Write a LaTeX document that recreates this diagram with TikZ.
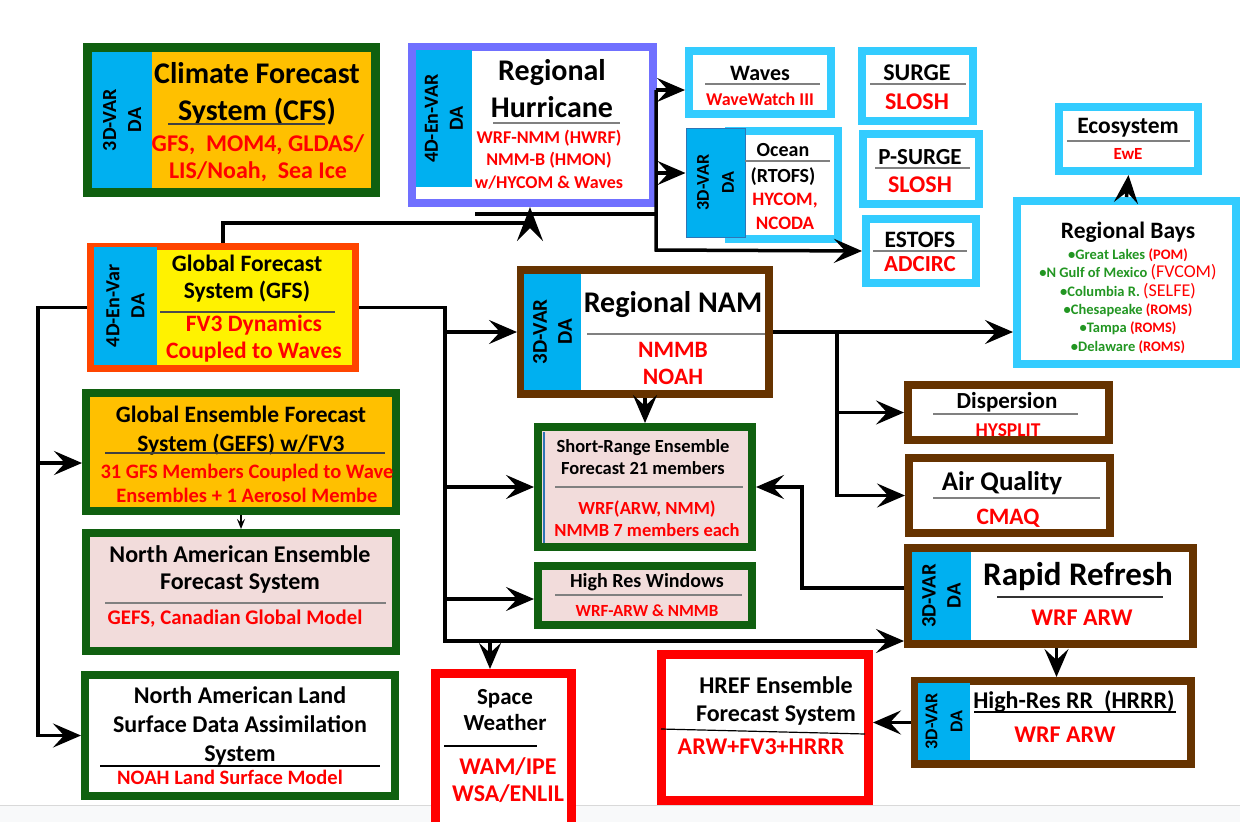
\documentclass[tikz,border=0pt]{standalone}
\usepackage{fontspec}
\setmainfont{Carlito}
\usetikzlibrary{arrows.meta}
\definecolor{dkgreen}{RGB}{16,96,16}
\definecolor{hurblue}{RGB}{112,112,255}
\definecolor{ltblue}{RGB}{51,204,255}
\definecolor{gfsred}{RGB}{255,69,0}
\definecolor{brownc}{RGB}{102,51,0}
\definecolor{dablue}{RGB}{0,176,240}
\definecolor{daline}{RGB}{46,117,182}
\definecolor{orangef}{RGB}{255,192,0}
\definecolor{pinkf}{RGB}{242,220,219}
\definecolor{txtred}{RGB}{255,0,0}
\definecolor{txtgreen}{RGB}{34,150,34}
\definecolor{sepgray}{RGB}{128,128,128}
\definecolor{bandgray}{RGB}{248,249,250}
\begin{document}
\begin{tikzpicture}[x=1pt, y=-1pt,
    frame/.style={draw=#1, fill=white, line width=8pt, inner sep=0pt},
    da/.style={fill=dablue, rotate=90, align=center, inner sep=0pt, font=\bfseries\fontsize{#1}{25}\selectfont},
    ttl/.style 2 args={align=center, inner sep=0pt, font=\bfseries\fontsize{#1}{#2}\selectfont},
    mdl/.style 2 args={ttl={#1}{#2}, text=txtred},
    sep/.style={draw=sepgray, line width=1.8pt},
    wire/.style={line width=3.5pt},
    arr/.style={wire, -{Stealth[length=28pt, width=24pt, inset=11pt]}}
    ]
    \useasboundingbox (0,0) rectangle (1240,822);
    \fill[bandgray] (0,805) rectangle (1240,822);
    \draw[gray!30, line width=1pt] (0,805) -- (1240,805);

    % frames
    \node[frame=dkgreen, line width=9pt, fill=orangef, minimum width=288pt, minimum height=145pt] (cfs) at (231.5,120) {};
    \node[frame=hurblue, minimum width=241pt, minimum height=156pt] (hur) at (532.5,125) {};
    \node[frame=ltblue, minimum width=142pt, minimum height=63pt] (wav) at (760,82.5) {};
    \node[frame=ltblue, minimum width=109pt, minimum height=108pt] (ocn) at (783.5,185) {};
    \node[frame=ltblue, minimum width=111pt, minimum height=70pt] (srg) at (917.5,86) {};
    \node[frame=ltblue, minimum width=116pt, minimum height=70pt] (psg) at (921,169) {};
    \node[frame=ltblue, minimum width=110pt, minimum height=64pt] (est) at (921,251) {};
    \node[frame=ltblue, minimum width=139pt, minimum height=64pt] (eco) at (1128.5,139) {};
    \node[frame=ltblue, minimum width=219pt, minimum height=163pt] (bay) at (1126.5,282.5) {};
    \node[frame=gfsred, line width=7pt, fill=yellow, minimum width=265pt, minimum height=122pt] (gfs) at (223,307.5) {};
    \node[frame=brownc, minimum width=248pt, minimum height=124pt] (nam) at (645,332) {};
    \node[frame=dkgreen, fill=orangef, minimum width=310pt, minimum height=118pt] (gef) at (241,452) {};
    \node[frame=dkgreen, fill=pinkf, minimum width=310pt, minimum height=118pt] (nae) at (241,592) {};
    \node[frame=dkgreen, minimum width=310pt, minimum height=121pt] (nal) at (240,735.5) {};
    \node[frame=dkgreen, fill=pinkf, minimum width=214pt, minimum height=120pt] (srf) at (645,487) {};
    \node[frame=dkgreen, fill=pinkf, minimum width=214pt, minimum height=59pt] (hrw) at (645,595.5) {};
    \node[frame=brownc, minimum width=201pt, minimum height=55pt] (dsp) at (1008.5,412.5) {};
    \node[frame=brownc, minimum width=201pt, minimum height=75pt] (aq) at (1009.5,495.5) {};
    \node[frame=brownc, minimum width=285pt, minimum height=96pt] (rr) at (1050.5,596) {};
    \node[frame=brownc, minimum width=276pt, minimum height=83pt] (hrr) at (1053,722.5) {};
    \node[frame=red, line width=9pt, minimum width=207pt, minimum height=146pt] (hrf) at (765,727.5) {};
    \node[frame=red, line width=9pt, minimum width=136pt, minimum height=157pt] (spw) at (503.5,752) {};

    % texts
    \node[da=20, minimum width=136pt, minimum height=60pt] (cfs-da) at (122,120) {3D-VAR\\DA};
    \node[ttl={30}{37}] (cfs-t) at (257,93.5) {Climate Forecast\\System (CFS)};
    \draw[sep, draw=darkgray] (168,124) -- (325,124);
    \node[mdl={24}{27}] (cfs-m) at (258,158.5) {GFS,~ MOM4, GLDAS/\\LIS/Noah,~ Sea Ice};

    \node[da=20, minimum width=137pt, minimum height=56pt] (hur-da) at (444,118.5) {4D-En-VAR\\DA};
    \node[ttl={30}{37}] (hur-t) at (552,88.5) {Regional\\Hurricane};
    \draw[sep] (493,123) -- (620,123);
    \node[mdl={18}{22.5}] (hur-m) at (549,159.5) {WRF-NMM (HWRF)\\NMM-B (HMON)\\w/HYCOM \& Waves};

    \node[ttl={22}{22}] (wav-t) at (760,73) {Waves};
    \draw[sep] (705,84) -- (820,84);
    \node[mdl={18}{18}] (wav-m) at (760,99) {WaveWatch III};

    \node[da=18, draw=daline, line width=1pt, minimum width=109pt, minimum height=59pt] (ocn-da) at (715.5,182.5) {3D-VAR\\DA};
    \node[ttl={20}{20}] (ocn-t) at (783,150) {Ocean};
    \draw[sep] (745,161) -- (830,161);
    \node[ttl={20}{20}] (ocn-s) at (783,177) {(RTOFS)};
    \node[mdl={19}{24}] (ocn-m) at (785,211) {HYCOM,\\NCODA};

    \node[ttl={24}{24}] (srg-t) at (917,73) {SURGE};
    \draw[sep] (870,84) -- (966,84);
    \node[mdl={24}{24}] (srg-m) at (917,102) {SLOSH};

    \node[ttl={23}{23}] (psg-t) at (920,157) {P-SURGE};
    \draw[sep] (875,168) -- (970,168);
    \node[mdl={24}{24}] (psg-m) at (920,185) {SLOSH};

    \node[ttl={23.5}{23.5}] (est-t) at (920,240) {ESTOFS};
    \draw[sep] (873,251) -- (967,251);
    \node[mdl={23}{23}] (est-m) at (920,264) {ADCIRC};

    \node[ttl={23.5}{23.5}] (eco-t) at (1128,128) {Ecosystem};
    \draw[sep] (1067,141) -- (1190,141);
    \node[mdl={17}{17}] (eco-m) at (1128,154) {EwE};

    \node[ttl={23.5}{23.5}] (bay-t) at (1128,232) {Regional Bays};
    \node[ttl={14.5}{18.4}, text=txtgreen] (bay-m) at (1128,301) {\textbullet Great Lakes {\color{txtred}(POM)}\\
      \textbullet N Gulf of Mexico {\color{txtred}\mdseries\fontsize{18}{18.4}\selectfont(FVCOM)}\\
      \textbullet Columbia R. {\color{txtred}\mdseries\fontsize{18}{18.4}\selectfont(SELFE)}\\
      \textbullet Chesapeake {\color{txtred}(ROMS)}\\
      \textbullet Tampa {\color{txtred}(ROMS)}\\
      \textbullet Delaware {\color{txtred}(ROMS)}};

    \node[da=20, minimum width=118pt, minimum height=63pt] (gfs-da) at (125.5,306) {4D-En-Var\\DA};
    \node[ttl={23.5}{27}] (gfs-t) at (247,278.5) {Global Forecast\\System (GFS)};
    \draw[sep, draw=black!70] (160,312) -- (335,312);
    \node[mdl={23.5}{27}] (gfs-m) at (254,338.5) {FV3 Dynamics\\Coupled to Waves};

    \node[da=21, minimum width=116pt, minimum height=57pt] (nam-da) at (552.5,332) {3D-VAR\\DA};
    \node[ttl={30}{30}] (nam-t) at (673,305) {Regional NAM};
    \draw[sep] (587,334) -- (765,334);
    \node[mdl={23.5}{27}] (nam-m) at (673,363.5) {NMMB\\NOAH};

    \node[ttl={23.5}{29}] (gef-t) at (241,430.5) {Global Ensemble Forecast\\System (GEFS) w/FV3};
    \draw[sep, draw=black!75] (105,453) -- (385,453);
    \node[mdl={20.5}{24}] (gef-m) at (247,483) {31 GFS Members Coupled to Wave\\Ensembles + 1 Aerosol Membe};

    \node[ttl={24}{27}] (nae-t) at (240,569.5) {North American Ensemble\\Forecast System};
    \draw[sep] (105,603) -- (386,603);
    \node[mdl={20.8}{20.8}] (nae-m) at (235,619) {GEFS, Canadian Global Model};

    \node[ttl={24}{29}] (nal-t) at (240,726) {North American Land\\Surface Data Assimilation\\System};
    \draw[sep, draw=black, line width=1.5pt] (100,766) -- (380,766);
    \node[mdl={20.5}{20.5}] (nal-m) at (230,777) {NOAH Land Surface Model};

    \draw[daline, line width=2pt] (544,432) -- (544,543);
    \node[ttl={18.5}{22}] (srf-t) at (643,457) {Short-Range Ensemble\\Forecast 21 members};
    \draw[sep] (555,487) -- (743,487);
    \node[mdl={18.5}{22}] (srf-m) at (647,519) {WRF(ARW, NMM)\\NMMB 7 members each};

    \node[ttl={20}{20}] (hrw-t) at (647,582) {High Res Windows};
    \draw[sep] (555,595) -- (742,595);
    \node[mdl={17}{17}] (hrw-m) at (647,611) {WRF-ARW \& NMMB};

    \node[ttl={23}{23}] (dsp-t) at (1007,402) {Dispersion};
    \draw[sep] (933,414) -- (1078,414);
    \node[mdl={19.5}{19.5}] (dsp-m) at (1008,430) {HYSPLIT};

    \node[ttl={27}{27}] (aq-t) at (1002,483) {Air Quality};
    \draw[sep] (933,498) -- (1100,498);
    \node[mdl={23.5}{23.5}] (aq-m) at (1008,518) {CMAQ};

    \node[da=20.5, minimum width=88pt, minimum height=59pt] (rr-da) at (941.5,596) {3D-VAR\\DA};
    \node[ttl={33}{33}] (rr-t) at (1078,577) {Rapid Refresh};
    \draw[sep, draw=black!80, line width=1.5pt] (997,597) -- (1163,597);
    \node[mdl={24}{24}] (rr-m) at (1082,618) {WRF ARW};

    \node[da=18, minimum width=77pt, minimum height=52pt] (hrr-da) at (944,721.5) {3D-VAR\\DA};
    \node[ttl={24}{24}] (hrr-t) at (1074,702) {High-Res RR~ (HRRR)};
    \draw[black, line width=1.5pt] (974,712) -- (1176,712);
    \node[mdl={24}{24}] (hrr-m) at (1065,735) {WRF ARW};

    \node[ttl={24}{28}] (hrf-t) at (776,701) {HREF Ensemble\\Forecast System};
    \draw[black, line width=1.2pt] (661,729) -- (865,734);
    \node[mdl={24}{24}] (hrf-m) at (761,747) {ARW+FV3+HRRR};

    \node[ttl={23}{26}] (spw-t) at (505,710) {Space\\Weather};
    \draw[black, line width=1.2pt] (444,746) -- (537,746);
    \node[mdl={24}{27}] (spw-m) at (508,780.5) {WAM/IPE\\WSA/ENLIL};

    % connectors
    \coordinate (gh) at (530,223);
    \draw[arr, -{Stealth[length=34pt, width=26pt, inset=13pt]}] (gfs.north) |- (gh) -- (gh |- hur.south);
    \coordinate (hw) at (475,214);
    \draw[wire] (hw) -- (656,214);
    \coordinate (ob) at (656,90);
    \draw[arr] (ob) -- (ob -| wav.west);
    \draw[arr] (656,173) -- (ocn-da.north |- 656,173);
    \draw[arr] (ob) -- (656,250) -- (est.west);

    \coordinate (lb) at (38,307.5);
    \draw[arr] (gfs.west) -- (lb) |- (nal.west);
    \draw[arr] (lb |- 0,463) -- (gef.west |- 0,463);

    \coordinate (rb) at (445,307.5);
    \coordinate (rc) at (445,641);
    \draw[arr] (gfs.east) -- (rb) -- (rc) -- (rc -| rr.west);
    \draw[arr] (rb |- nam.west) -- (nam.west);
    \draw[arr] (rb |- srf.west) -- (srf.west);
    \draw[arr] (rb |- 0,599) -- (hrw.west |- 0,599);
    \coordinate (sw) at (490,641);
    \draw[arr, -{Stealth[length=26pt, width=22pt, inset=10pt]}] (sw) -- (spw.north -| sw);

    \draw[arr] (nam.east) -- (nam.east -| bay.west);
    \coordinate (nb) at (837,332);
    \draw[arr] (nb) |- (aq.west);
    \draw[arr] (nb |- dsp.west) -- (dsp.west);
    \draw[arr] (nam.south) -- (srf.north);

    \draw[arr] ([yshift=8pt]rr.west) -- ++(-102,0) |- (srf.east);
    \draw[arr] ([xshift=6pt]rr.south) -- ([xshift=6pt]rr.south |- hrr.north);
    \draw[arr] (hrr.west) -- (hrr.west -| hrf.east);
    \draw[arr] (bay.north) -- (eco.south);
    \draw[line width=1.5pt, -{Stealth[length=10pt, width=8pt, inset=4pt]}] (gef.south) -- (nae.north);
  \end{tikzpicture}
\end{document}
